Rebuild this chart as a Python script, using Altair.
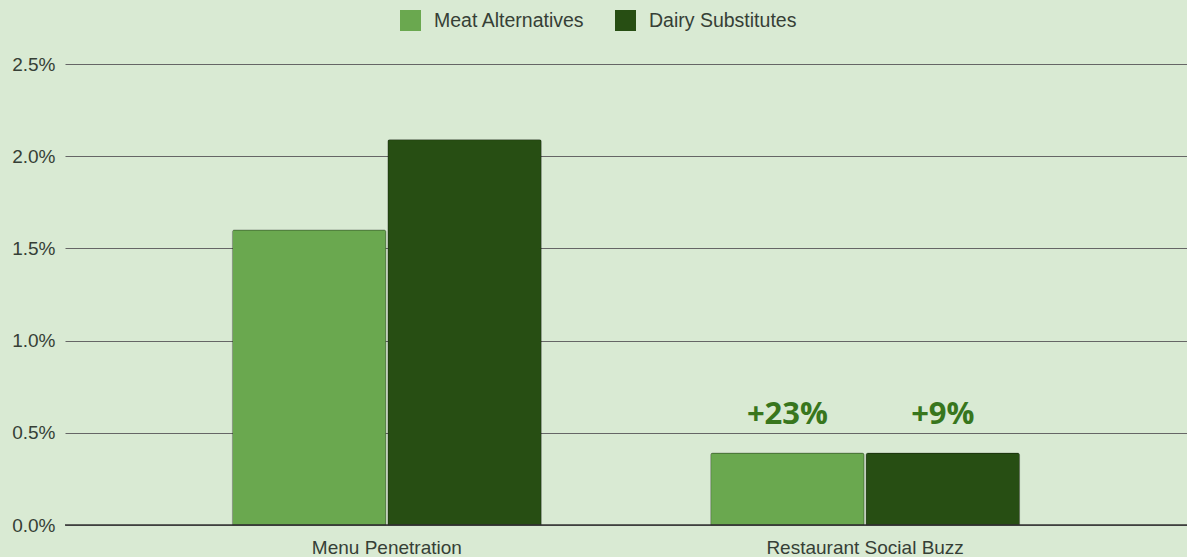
import altair as alt
import pandas as pd

categories = ["Menu Penetration", "Restaurant Social Buzz"]
series = ["Meat Alternatives", "Dairy Substitutes"]
meat_values = [1.6, 0.39]
dairy_values = [2.09, 0.39]
meat_notes = ["", "+23%"]
dairy_notes = ["", "+9%"]
y_ticks = [0.0, 0.5, 1.0, 1.5, 2.0, 2.5]

rows = []
for i, c in enumerate(categories):
    rows.append({"category": c, "series": series[0], "value": meat_values[i] / 100, "note": meat_notes[i]})
    rows.append({"category": c, "series": series[1], "value": dairy_values[i] / 100, "note": dairy_notes[i]})
df = pd.DataFrame(rows)

colors = ["#6aa84f", "#274e13"]
FONT = "Liberation Sans"
TXT = "#363f36"

x_enc = alt.X("category:N", sort=categories, title=None,
              scale=alt.Scale(paddingInner=0.354, paddingOuter=0.35),
              axis=alt.Axis(labelAngle=0, labelFontSize=19, labelColor=TXT, labelFont=FONT,
                            ticks=False, domain=False, labelPadding=13, grid=False, labelLimit=0))
xoff = alt.XOffset("series:N", sort=series, scale=alt.Scale(paddingInner=0.012))
y_enc = alt.Y("value:Q", title=None,
              scale=alt.Scale(domain=[0, 0.025], nice=False),
              axis=alt.Axis(values=[v / 100 for v in y_ticks], format=".1%", labelFontSize=19,
                            labelColor=TXT, labelFont=FONT, ticks=False, domain=False,
                            labelPadding=10, gridColor="#666666", gridWidth=1.2))

base = alt.Chart(df)

bars = base.mark_bar(cornerRadiusTopLeft=2, cornerRadiusTopRight=2, stroke="#000000",
                     strokeOpacity=0.25, strokeWidth=1).encode(
    x=x_enc, xOffset=xoff, y=y_enc,
    color=alt.Color("series:N", sort=series, title=None,
                    scale=alt.Scale(domain=series, range=colors),
                    legend=alt.Legend(orient="none", legendX=335, legendY=-54, direction="horizontal",
                                      symbolType="square", symbolSize=441, symbolStrokeWidth=0,
                                      labelFontSize=19.5, labelColor=TXT, labelFont=FONT,
                                      columnPadding=30, labelOffset=13, symbolOpacity=1)),
)

text = base.mark_text(baseline="bottom", dy=-22, fontSize=31, fontWeight="bold",
                      font="Open Sans", color="#38761d").encode(
    x=alt.X("category:N", sort=categories), xOffset=xoff, y="value:Q", text="note:N"
)

zero = alt.Chart(pd.DataFrame({"z": [0.0]})).mark_rule(color="#333333", strokeWidth=1.3).encode(
    y="z:Q"
)

chart = alt.layer(bars, zero, text).properties(
    width=1122, height=461,
    background="#d9ead3",
    padding={"left": 65, "top": 64, "right": 0, "bottom": 32},
    autosize=alt.AutoSizeParams(type="none"),
).configure_view(stroke=None).configure_axis(gridOpacity=1)

chart.save("out.html", embed_options={"renderer": "svg", "actions": False})
